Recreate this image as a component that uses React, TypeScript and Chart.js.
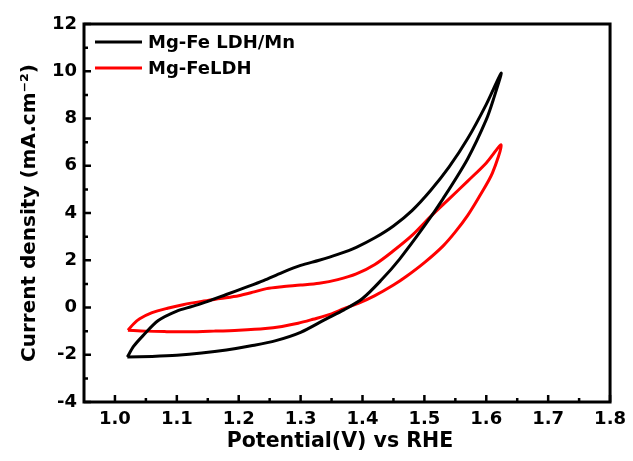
import { useEffect, useRef } from "react";
import { Chart, registerables } from "chart.js";

Chart.register(...registerables);

const FONT = "'DejaVu Sans', 'Liberation Sans', Arial, sans-serif";

const seriesLabels = ["Mg-Fe LDH/Mn", "Mg-FeLDH"];
const seriesColors = ["#000000", "#ff0000"];

// Mg-Fe LDH/Mn loop (forward branch then return branch)
const mnPotential = [
  1.02, 1.03, 1.045, 1.07, 1.1, 1.125, 1.15, 1.18, 1.21, 1.24, 1.27, 1.3, 1.33, 1.36, 1.39,
  1.42, 1.45, 1.48, 1.51, 1.54, 1.57, 1.6, 1.624,
  1.612, 1.6, 1.57, 1.53, 1.5, 1.46, 1.43, 1.4, 1.37, 1.34, 1.3, 1.26, 1.22, 1.18, 1.14,
  1.1, 1.06, 1.02,
];
const mnCurrent = [
  -2.1, -1.65, -1.2, -0.55, -0.15, 0.05, 0.26, 0.55, 0.84, 1.14, 1.48, 1.78, 2.0, 2.25, 2.55,
  2.95, 3.45, 4.1, 4.95, 5.95, 7.15, 8.6, 9.92,
  8.85, 7.95, 6.3, 4.6, 3.45, 2.05, 1.15, 0.38, -0.1, -0.5, -1.05, -1.4, -1.62, -1.8, -1.93,
  -2.02, -2.07, -2.1,
];

// Mg-FeLDH loop
const ldhPotential = [
  1.021, 1.03, 1.04, 1.06, 1.085, 1.11, 1.14, 1.17, 1.2, 1.225, 1.245, 1.27, 1.3, 1.33, 1.36,
  1.39, 1.42, 1.45, 1.48, 1.51, 1.54, 1.57, 1.6, 1.624,
  1.61, 1.59, 1.57, 1.55, 1.53, 1.5, 1.47, 1.45, 1.42, 1.393, 1.37, 1.35, 1.32, 1.296, 1.27,
  1.243, 1.2, 1.16, 1.12, 1.08, 1.05, 1.021,
];
const ldhCurrent = [
  -0.96, -0.7, -0.48, -0.22, -0.03, 0.12, 0.26, 0.38, 0.5, 0.66, 0.8, 0.88, 0.95, 1.03, 1.18,
  1.42, 1.82, 2.4, 3.05, 3.85, 4.6, 5.35, 6.12, 6.88,
  5.7, 4.75, 3.9, 3.2, 2.6, 1.9, 1.3, 0.95, 0.5, 0.17, -0.05, -0.27, -0.5, -0.67, -0.8,
  -0.89, -0.96, -1.0, -1.03, -1.02, -1.0, -0.96,
];

const xMin = 0.95;
const xMax = 1.8;
const yMin = -4;
const yMax = 12;
const xTicks = [1.0, 1.1, 1.2, 1.3, 1.4, 1.5, 1.6, 1.7, 1.8];
const xMinorTicks = [1.05, 1.15, 1.25, 1.35, 1.45, 1.55, 1.65, 1.75];
const yTicks = [-4, -2, 0, 2, 4, 6, 8, 10, 12];
const yMinorTicks = [-3, -1, 1, 3, 5, 7, 9, 11];

const xTitle = "Potential(V) vs RHE";
const yTitle = "Current density (mA.cm\u207B\u00B2)";

const framePlugin = {
  id: "frameTicks",
  afterDraw(chart: any) {
    const { ctx, chartArea } = chart;
    const { left, top, right, bottom } = chartArea;
    const xs = chart.scales.x;
    const ys = chart.scales.y;
    ctx.save();
    ctx.strokeStyle = "#000";
    ctx.lineWidth = 3;
    ctx.strokeRect(left, top, right - left, bottom - top);
    ctx.lineWidth = 2.5;
    ctx.beginPath();
    const tick = (len: number, vals: number[], horiz: boolean) => {
      for (const v of vals) {
        if (horiz) {
          const px = xs.getPixelForValue(v);
          ctx.moveTo(px, bottom);
          ctx.lineTo(px, bottom - len);
        } else {
          const py = ys.getPixelForValue(v);
          ctx.moveTo(left, py);
          ctx.lineTo(left + len, py);
        }
      }
    };
    tick(7, xTicks, true);
    tick(4, xMinorTicks, true);
    tick(7, yTicks, false);
    tick(4, yMinorTicks, false);
    ctx.stroke();
    // x-axis title (slightly left of centre, as in the reference)
    ctx.fillStyle = "#000";
    ctx.font = `bold 20.5px ${FONT}`;
    ctx.textAlign = "center";
    ctx.textBaseline = "alphabetic";
    ctx.fillText(xTitle, 340, 447);
    ctx.restore();
  },
};

const legendPlugin = {
  id: "insideLegend",
  afterDraw(chart: any) {
    const { ctx } = chart;
    ctx.save();
    ctx.font = `bold 18px ${FONT}`;
    ctx.textBaseline = "middle";
    ctx.textAlign = "left";
    chart.data.datasets.forEach((ds: any, i: number) => {
      const y = 42 + i * 26;
      ctx.strokeStyle = ds.borderColor;
      ctx.lineWidth = 3;
      ctx.beginPath();
      ctx.moveTo(95, y);
      ctx.lineTo(142, y);
      ctx.stroke();
      ctx.fillStyle = "#000";
      ctx.fillText(ds.label, 148, y + 1);
    });
    ctx.restore();
  },
};

export default function App() {
  const ref = useRef<HTMLCanvasElement | null>(null);
  useEffect(() => {
    if (!ref.current) return;
    const build = (xs: number[], ys: number[]) => xs.map((x, i) => ({ x, y: ys[i] }));
    const chart = new Chart(ref.current, {
      type: "scatter",
      data: {
        datasets: [
          {
            label: seriesLabels[0],
            data: build(mnPotential, mnCurrent),
            borderColor: seriesColors[0],
            backgroundColor: seriesColors[0],
            showLine: true,
            pointRadius: 0,
            borderWidth: 3,
            tension: 0.3,
          },
          {
            label: seriesLabels[1],
            data: build(ldhPotential, ldhCurrent),
            borderColor: seriesColors[1],
            backgroundColor: seriesColors[1],
            showLine: true,
            pointRadius: 0,
            borderWidth: 3,
            tension: 0.3,
          },
        ],
      },
      options: {
        responsive: false,
        animation: false,
        layout: { padding: { top: 24, right: 19, left: 0, bottom: 0 } },
        plugins: { legend: { display: false }, tooltip: { enabled: false } },
        scales: {
          x: {
            type: "linear",
            min: xMin,
            max: xMax,
            grid: { display: false, drawTicks: false },
            border: { display: false },
            afterBuildTicks: (s: any) => {
              s.ticks = xTicks.map((v) => ({ value: v }));
            },
            afterFit: (s: any) => {
              s.height = 59;
            },
            ticks: {
              padding: 7,
              color: "#000",
              autoSkip: false,
              maxRotation: 0,
              font: { family: FONT, size: 18, weight: "bold" },
              callback: (v: any) => Number(v).toFixed(1),
            },
            title: { display: false, text: xTitle },
          },
          y: {
            type: "linear",
            min: yMin,
            max: yMax,
            grid: { display: false, drawTicks: false },
            border: { display: false },
            afterBuildTicks: (s: any) => {
              s.ticks = yTicks.map((v) => ({ value: v }));
            },
            afterFit: (s: any) => {
              s.width = 84;
            },
            ticks: {
              padding: 7,
              color: "#000",
              autoSkip: false,
              font: { family: FONT, size: 18, weight: "bold" },
              callback: (v: any) => String(v),
            },
            title: {
              display: true,
              text: yTitle,
              color: "#000",
              font: { family: FONT, size: 20, weight: "bold" },
              padding: { top: 18, bottom: 0 },
            },
          },
        },
      },
      plugins: [framePlugin, legendPlugin],
    } as any);
    return () => chart.destroy();
  }, []);
  return (
    <div style={{ position: "absolute", left: 0, top: 0, width: 633, height: 461, background: "#fff" }}>
      <canvas ref={ref} width={633} height={461} style={{ display: "block" }} />
    </div>
  );
}
